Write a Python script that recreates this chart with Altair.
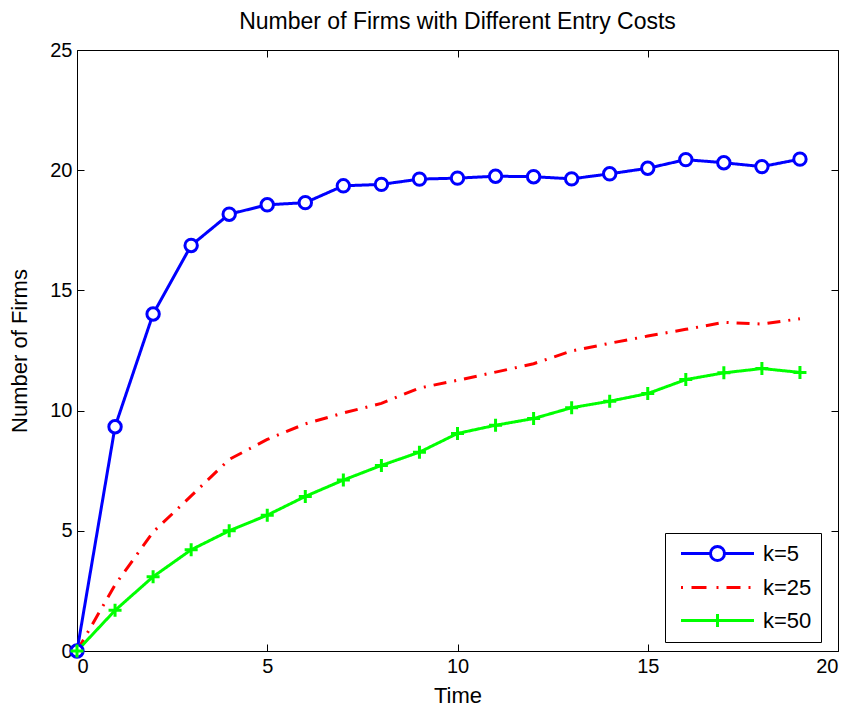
import altair as alt
import pandas as pd

time = list(range(20))
k5 = [0, 9.33, 14.02, 16.87, 18.17, 18.56, 18.65, 19.35, 19.41, 19.63, 19.67,
      19.75, 19.73, 19.64, 19.85, 20.08, 20.44, 20.31, 20.15, 20.46]
k25 = [0, 2.75, 4.95, 6.45, 7.97, 8.8, 9.45, 9.9, 10.3, 10.94, 11.26,
       11.6, 11.95, 12.48, 12.8, 13.1, 13.38, 13.67, 13.6, 13.82]
k50 = [0, 1.69, 3.09, 4.21, 5.0, 5.65, 6.43, 7.11, 7.72, 8.27, 9.05,
       9.39, 9.67, 10.12, 10.39, 10.71, 11.29, 11.57, 11.75, 11.59]
series_names = ["k=5", "k=25", "k=50"]
series_colors = ["#0000ff", "#ff0000", "#00ff00"]
x_ticks = [0, 5, 10, 15, 20]
y_ticks = [0, 5, 10, 15, 20, 25]

rows = []
for name, vals in zip(series_names, [k5, k25, k50]):
    for t, v in zip(time, vals):
        rows.append({"Time": t, "Firms": v, "series": name})
df = pd.DataFrame(rows)

FONT = "Liberation Sans"
LS = 20
TS = 22

xs = alt.Scale(domain=[0, 20], nice=False, zero=False)
ys = alt.Scale(domain=[0, 25], nice=False, zero=False)

x_bottom = alt.Axis(orient="bottom", values=x_ticks, offset=-7, tickSize=7, domain=False,
                    grid=False, labelPadding=5, title="Time", titlePadding=9,
                    labelFont=FONT, labelFontSize=LS, titleFont=FONT, titleFontSize=TS,
                    titleFontWeight="normal", labelColor="black", titleColor="black",
                    tickColor="black", tickWidth=1)
y_left = alt.Axis(orient="left", values=y_ticks, offset=-7, tickSize=7, domain=False,
                  grid=False, labelPadding=5, title="Number of Firms", titlePadding=18,
                  labelFont=FONT, labelFontSize=LS, titleFont=FONT, titleFontSize=TS,
                  titleFontWeight="normal", labelColor="black", titleColor="black",
                  tickColor="black", tickWidth=1)
x_top = alt.Axis(orient="top", values=x_ticks, offset=-7, tickSize=7, domain=False,
                 grid=False, labels=False, title=None, tickColor="black", tickWidth=1)
y_right = alt.Axis(orient="right", values=y_ticks, offset=-7, tickSize=7, domain=False,
                   grid=False, labels=False, title=None, tickColor="black", tickWidth=1)

color_scale = alt.Scale(domain=series_names, range=series_colors)
dash_scale = alt.Scale(domain=series_names, range=[[1, 0], [13, 8, 2, 8], [1, 0]])

lines = alt.Chart(df).mark_line(strokeWidth=3, clip=False).encode(
    x=alt.X("Time:Q", scale=xs, axis=x_bottom),
    y=alt.Y("Firms:Q", scale=ys, axis=y_left),
    color=alt.Color("series:N", scale=color_scale, legend=None),
    strokeDash=alt.StrokeDash("series:N", scale=dash_scale, legend=None),
    detail="series:N",
)

frame = alt.Chart(df).mark_line(opacity=0).encode(
    x=alt.X("Time:Q", scale=xs, axis=x_top),
    y=alt.Y("Firms:Q", scale=ys, axis=y_right),
)

circles = alt.Chart(df).transform_filter(alt.datum.series == "k=5").mark_point(
    shape="circle", size=154, filled=False, fill="white", fillOpacity=1,
    stroke="#0000ff", strokeWidth=3, opacity=1, clip=False
).encode(x=alt.X("Time:Q", scale=xs, axis=None), y=alt.Y("Firms:Q", scale=ys, axis=None))

pluses = alt.Chart(df).transform_filter(alt.datum.series == "k=50").mark_point(
    shape="M0,-1L0,1M-1,0L1,0", size=169, filled=False,
    stroke="#00ff00", strokeWidth=3, opacity=1, clip=False
).encode(x=alt.X("Time:Q", scale=xs, axis=None), y=alt.Y("Firms:Q", scale=ys, axis=None))

legend_paths = [
    "M-3.65,0L-0.7,0M0.7,0L3.65,0M0.7,0A0.7,0.7 0 1,1 -0.7,0A0.7,0.7 0 1,1 0.7,0",
    "M-3.65,0L-3.45,0M-2.6,0L-1.1,0M-0.1,0L0.1,0M0.9,0L2.3,0M3.1,0L3.3,0",
    "M-3.65,0L3.65,0M0,-0.65L0,0.65",
]

legend_layer = alt.Chart(df).mark_point(opacity=0, filled=False, size=400).encode(
    x=alt.X("Time:Q", scale=xs, axis=None),
    y=alt.Y("Firms:Q", scale=ys, axis=None),
    color=alt.Color("series:N", scale=color_scale, legend=alt.Legend(
        title=None, orient="none", legendX=588, legendY=483,
        padding=9, strokeColor="black", fillColor="white",
        symbolOpacity=1, symbolStrokeWidth=3, symbolSize=400,
        symbolOffset=32, labelOffset=34, rowPadding=9,
        labelFont=FONT, labelFontSize=22, labelColor="black",
        symbolFillColor="white")),
    shape=alt.Shape("series:N", scale=alt.Scale(domain=series_names, range=legend_paths)),
)

chart = alt.layer(lines, frame, circles, pluses, legend_layer).resolve_axis(
    x="independent", y="independent"
).resolve_legend(
    color="independent", shape="independent", strokeDash="independent"
).properties(
    width=761, height=601,
    title=alt.TitleParams("Number of Firms with Different Entry Costs", font=FONT,
                          fontSize=23, fontWeight="normal", color="black", offset=6),
    autosize=alt.AutoSizeParams(type="none"),
    padding={"left": 77, "top": 50, "right": 21, "bottom": 62},
    background="white",
).configure_view(stroke="black", strokeWidth=1)

chart.save("out.html", embed_options={"renderer": "svg", "actions": False})
